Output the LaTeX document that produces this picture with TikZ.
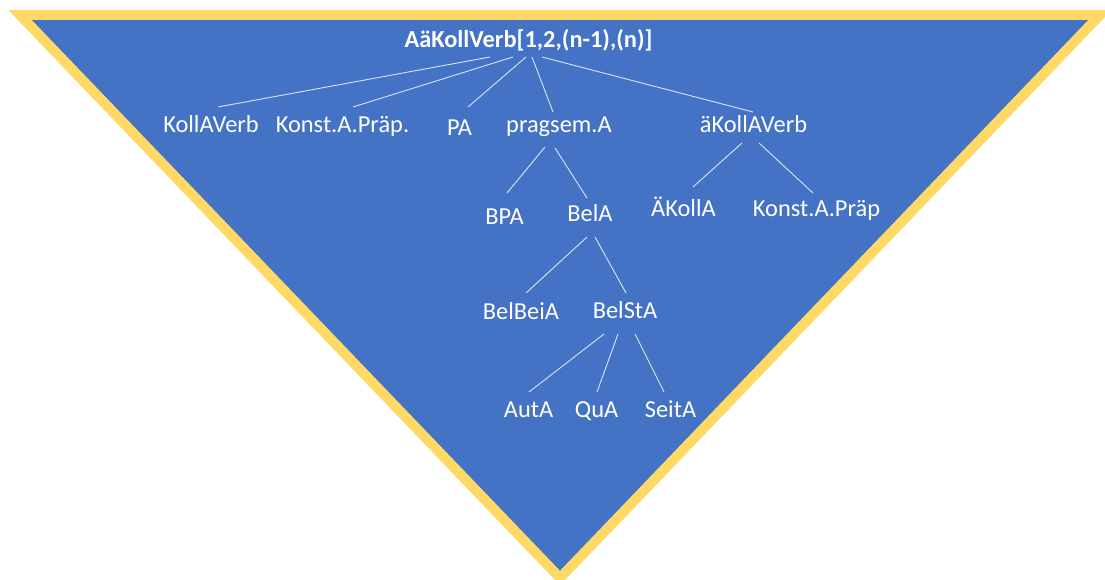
\documentclass[tikz,border=0pt]{standalone}
\usepackage{fontspec}
\setmainfont{Carlito}
\definecolor{triblue}{HTML}{4472C4}
\definecolor{trigold}{HTML}{FFD966}
\definecolor{linkclr}{HTML}{DCE3F3}
\begin{document}
\begin{tikzpicture}[x=1pt,y=-1pt,
  lbl/.style={text=white,inner sep=0pt,anchor=base,font=\fontsize{24.4}{29}\selectfont},
  root/.style={lbl,font=\fontsize{24.4}{29}\selectfont\bfseries},
  link/.style={draw=linkclr,line width=0.9pt}]
\useasboundingbox (0,0) rectangle (1105,580);

% inverted triangle background
\draw[fill=triblue,draw=trigold,line width=10pt,line join=miter]
  (20,15) -- (1100,15) -- (560,578) -- cycle;

% tree labels
\node[root] (top) at (528.5,48) {AäKollVerb[1,2,(n-1),(n)]};
\node[lbl] (kollaverb) at (211,133) {KollAVerb};
\node[lbl] (konstA) at (342.5,133) {Konst.A.Präp.};
\node[lbl] (pa) at (459.5,136) {PA};
\node[lbl] (pragsem) at (559,133) {pragsem.A};
\node[lbl] (akoll) at (753.5,133) {äKollAVerb};
\node[lbl] (bpa) at (504.5,224) {BPA};
\node[lbl] (bela) at (590,222) {BelA};
\node[lbl] (akolla) at (683.5,216) {ÄKollA};
\node[lbl] (konstB) at (816.5,216) {Konst.A.Präp};
\node[lbl] (belbeia) at (521,319) {BelBeiA};
\node[lbl] (belsta) at (625,318) {BelStA};
\node[lbl] (auta) at (528.5,417) {AutA};
\node[lbl] (qua) at (596.5,417) {QuA};
\node[lbl] (seita) at (670.5,417) {SeitA};

% branches
\draw[link] ([shift={(-38.5,9)}]top.base) -- ([shift={(7,-26)}]kollaverb.base);
\draw[link] ([shift={(-15.5,9)}]top.base) -- ([shift={(10.5,-26)}]konstA.base);
\draw[link] ([shift={(-2.5,9)}]top.base) -- ([shift={(8.5,-29)}]pa.base);
\draw[link] ([shift={(3.5,9)}]top.base) -- ([shift={(-6,-21)}]pragsem.base);
\draw[link] ([shift={(13.5,9)}]top.base) -- ([shift={(-0.5,-21)}]akoll.base);

\draw[link] ([shift={(-14,14)}]pragsem.base) -- ([shift={(2.5,-31)}]bpa.base);
\draw[link] ([shift={(-4,15)}]pragsem.base) -- ([shift={(-3,-24)}]bela.base);

\draw[link] ([shift={(-11.5,10)}]akoll.base) -- ([shift={(9.5,-29)}]akolla.base);
\draw[link] ([shift={(5.5,10)}]akoll.base) -- ([shift={(-3.5,-23)}]konstB.base);

\draw[link] ([shift={(-3,15)}]bela.base) -- ([shift={(5,-26)}]belbeia.base);
\draw[link] ([shift={(5,15)}]bela.base) -- ([shift={(1,-25)}]belsta.base);

\draw[link] ([shift={(-21,16)}]belsta.base) -- ([shift={(0.5,-25)}]auta.base);
\draw[link] ([shift={(-7,16)}]belsta.base) -- ([shift={(0.5,-25)}]qua.base);
\draw[link] ([shift={(10,16)}]belsta.base) -- ([shift={(-6.5,-25)}]seita.base);
\end{tikzpicture}
\end{document}
